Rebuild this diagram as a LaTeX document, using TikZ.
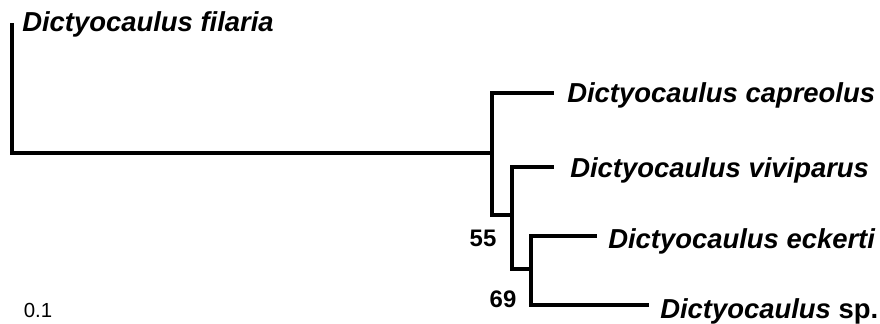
\documentclass[tikz,border=0pt]{standalone}
\usepackage{fontspec}
\setmainfont{Liberation Sans}
\usetikzlibrary{positioning, calc}

\tikzset{
  branch/.style={line width=2.8pt, line cap=rect, line join=miter},
  taxon/.style={font=\fontsize{19.5}{22}\selectfont\bfseries\itshape, anchor=base west, inner sep=0pt},
  boot/.style={font=\fontsize{17}{18}\selectfont\bfseries, inner sep=0pt},
}

\begin{document}
\begin{tikzpicture}[x=0.025cm, y=-0.025cm]
    \useasboundingbox (0,0) rectangle (880,323);

    % Tips and inner nodes
    \coordinate (tfil) at (12,25);
    \coordinate (nA) at (492,153);
    \coordinate (nB) at (512,215);
    \coordinate (nC) at (531,269);
    \coordinate (tcap) at (552,93);
    \coordinate (tviv) at (552,167);
    \coordinate (teck) at (595,236);
    \coordinate (tsp) at (647,305);

    % Branches
    \draw[branch] (tfil) |- (nA);
    \draw[branch] (tcap) -| (nA);
    \draw[branch] (nA) |- (nB);
    \draw[branch] (tviv) -| (nB);
    \draw[branch] (nB) |- (nC);
    \draw[branch] (teck) -| (nC);
    \draw[branch] (nC) |- (tsp);

    % Species labels
    \node[taxon] (fil) at (22,31) {Dictyocaulus filaria};
    \node[taxon] (cap) at (567,102) {Dictyocaulus capreolus};
    \node[taxon] (viv) at (570,177) {Dictyocaulus viviparus};
    \node[taxon] (eck) at (608,248) {Dictyocaulus eckerti};
    \node[taxon] (sp) at (660,318) {Dictyocaulus \upshape sp.};

    % Bootstrap values
    \node[boot] (b55) at (483,238) {55};
    \node[boot] (b69) at (503,299) {69};

    % Scale
    \node[font=\fontsize{14.5}{16}\selectfont, inner sep=0pt] (scale) at (38,310) {0.1};
\end{tikzpicture}
\end{document}
